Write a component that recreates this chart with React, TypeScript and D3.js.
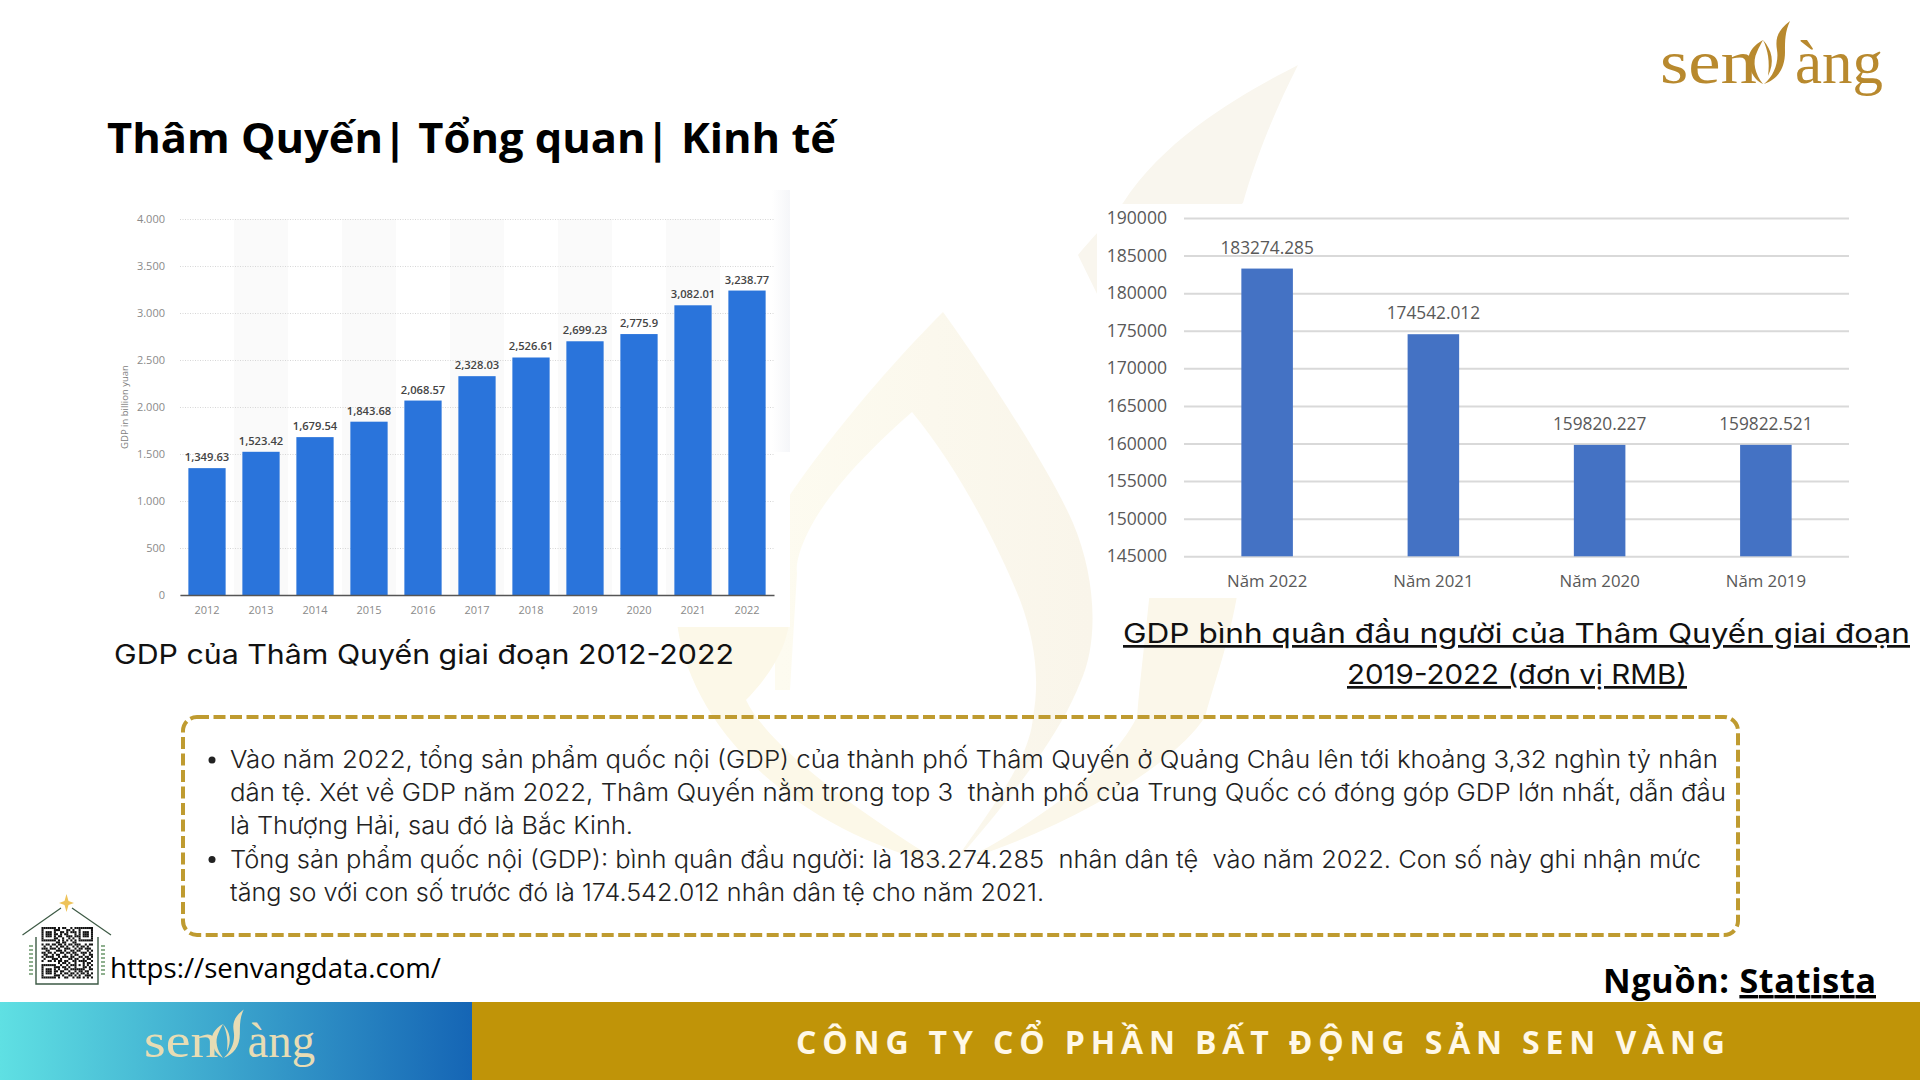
import { useEffect, useRef } from 'react';
import * as d3 from 'd3';

// GDP chart (billion yuan)
const gdpYears = ['2012', '2013', '2014', '2015', '2016', '2017', '2018', '2019', '2020', '2021', '2022'];
const gdpValues = [1349.63, 1523.42, 1679.54, 1843.68, 2068.57, 2328.03, 2526.61, 2699.23, 2775.9, 3082.01, 3238.77];
const gdpTicks = [0, 500, 1000, 1500, 2000, 2500, 3000, 3500, 4000];

// GDP per capita chart (RMB)
const perCapitaYears = ['Năm 2022', 'Năm 2021', 'Năm 2020', 'Năm 2019'];
const perCapitaValues = [183274.285, 174542.012, 159820.227, 159822.521];
const perCapitaTicks = [145000, 150000, 155000, 160000, 165000, 170000, 175000, 180000, 185000, 190000];

const bodyLines = [
  { text: 'Vào năm 2022, tổng sản phẩm quốc nội (GDP) của thành phố Thâm Quyến ở Quảng Châu lên tới khoảng 3,32 nghìn tỷ nhân', end: 1718, bullet: true },
  { text: 'dân tệ. Xét về GDP năm 2022, Thâm Quyến nằm trong top 3  thành phố của Trung Quốc có đóng góp GDP lớn nhất, dẫn đầu', end: 1726, bullet: false },
  { text: 'là Thượng Hải, sau đó là Bắc Kinh.', end: 633, bullet: false },
  { text: 'Tổng sản phẩm quốc nội (GDP): bình quân đầu người: là 183.274.285  nhân dân tệ  vào năm 2022. Con số này ghi nhận mức', end: 1701, bullet: true },
  { text: 'tăng so với con số trước đó là 174.542.012 nhân dân tệ cho năm 2021.', end: 1044, bullet: false },
];

const qrRows = [
  '1111111010110010111111111',
  '1000001110001101001000001',
  '1011101001101011101011101',
  '1011101101011000101011101',
  '1011101011001110111011101',
  '1000001100100101001000001',
  '1111111010101010101111111',
  '0000000110110001100000000',
  '1011011011010110111001011',
  '0100100101101001010110100',
  '1110111010011100101101110',
  '0011000111010011011000101',
  '1101101001101101100111010',
  '0110010110010010110010011',
  '1011110010111011001101101',
  '0100011101000110110010110',
  '1001101011011001101111001',
  '0000000010110100100010110',
  '1111111001001011101010101',
  '1000001110110100100011010',
  '1011101010011011111110011',
  '1011101101100100101101100',
  '1011101001011011010110101',
  '1000001110100110101001110',
  '1111111010011001011010101',
];

const GOLD_BORDER = '#bf9b30';
const TEXT_FONT = 'Inter, sans-serif';
const CHART_FONT = '"Open Sans", sans-serif';

function drawGdp(root: SVGGElement) {
  const g = d3.select(root);
  g.selectAll('*').remove();

  const x = d3.scaleBand<string>().domain(gdpYears).range([180, 774]).paddingInner(0.31).paddingOuter(0.155);
  const band = d3.scaleBand<string>().domain(gdpYears).range([180, 774]);
  const y = d3.scaleLinear().domain([0, 4000]).range([595, 219]);
  const thousands = d3.formatLocale({ decimal: ',', thousands: '.', grouping: [3], currency: ['', ''] }).format(',');

  // alternating column shading behind the bars
  g.selectAll('rect.stripe')
    .data(gdpYears.filter((_, i) => i % 2 === 1))
    .join('rect')
    .attr('class', 'stripe')
    .attr('x', d => band(d) ?? 0)
    .attr('y', y(4000))
    .attr('width', band.bandwidth())
    .attr('height', y(0) - y(4000))
    .attr('fill', '#fafafa');

  const yAxis = g.append('g')
    .attr('transform', 'translate(180,0)')
    .call(d3.axisLeft(y).tickValues(gdpTicks).tickSize(-594).tickPadding(15).tickFormat(d => thousands(d as number)));
  yAxis.select('.domain').remove();
  yAxis.selectAll('line').attr('stroke', '#d6d6d6').attr('stroke-dasharray', '1 1.5');
  yAxis.selectAll('text').attr('fill', '#8a8a8a').attr('font-size', 11).attr('font-family', CHART_FONT);

  g.selectAll('rect.bar')
    .data(gdpValues)
    .join('rect')
    .attr('class', 'bar')
    .attr('x', (_, i) => x(gdpYears[i]) ?? 0)
    .attr('y', d => y(d))
    .attr('width', x.bandwidth())
    .attr('height', d => y(0) - y(d))
    .attr('fill', '#2a74db');

  g.selectAll('text.value')
    .data(gdpValues)
    .join('text')
    .attr('class', 'value')
    .attr('x', (_, i) => (x(gdpYears[i]) ?? 0) + x.bandwidth() / 2)
    .attr('y', d => y(d) - 7)
    .attr('text-anchor', 'middle')
    .attr('font-family', CHART_FONT)
    .attr('font-size', 11.2)
    .attr('font-weight', 600)
    .attr('fill', '#444')
    .text(d => d3.format(',')(d));

  const xAxis = g.append('g')
    .attr('transform', 'translate(0,595)')
    .call(d3.axisBottom(band).tickSize(0).tickPadding(11));
  xAxis.select('.domain').attr('stroke', '#555').attr('stroke-width', 1.5);
  xAxis.selectAll('text').attr('fill', '#8a8a8a').attr('font-size', 11).attr('font-family', CHART_FONT);

  g.append('text')
    .attr('transform', 'translate(128,407) rotate(-90)')
    .attr('text-anchor', 'middle')
    .attr('font-family', CHART_FONT)
    .attr('font-size', 9.5)
    .attr('fill', '#808080')
    .text('GDP in billion yuan');
}

function drawPerCapita(root: SVGGElement) {
  const g = d3.select(root);
  g.selectAll('*').remove();

  const x = d3.scaleBand<string>().domain(perCapitaYears).range([1184, 1849]).paddingInner(0.69).paddingOuter(0.345);
  const y = d3.scaleLinear().domain([145000, 190000]).range([556.3, 218]);

  const yAxis = g.append('g')
    .attr('transform', 'translate(1184,0)')
    .call(d3.axisLeft(y).tickValues(perCapitaTicks).tickSize(-665).tickPadding(17).tickFormat(d3.format('d')));
  yAxis.select('.domain').remove();
  yAxis.selectAll('line').attr('stroke', '#d9d9d9').attr('stroke-width', 2);
  yAxis.selectAll('text').attr('fill', '#595959').attr('font-size', 17.6).attr('font-family', CHART_FONT);

  g.selectAll('rect.bar')
    .data(perCapitaValues)
    .join('rect')
    .attr('class', 'bar')
    .attr('x', (_, i) => x(perCapitaYears[i]) ?? 0)
    .attr('y', d => y(d))
    .attr('width', x.bandwidth())
    .attr('height', d => y(145000) - y(d))
    .attr('fill', '#4472c4');

  g.selectAll('text.value')
    .data(perCapitaValues)
    .join('text')
    .attr('class', 'value')
    .attr('x', (_, i) => (x(perCapitaYears[i]) ?? 0) + x.bandwidth() / 2)
    .attr('y', d => y(d) - 15)
    .attr('text-anchor', 'middle')
    .attr('font-family', CHART_FONT)
    .attr('font-size', 17.3)
    .attr('fill', '#595959')
    .text(d => String(d));

  const xAxis = g.append('g')
    .attr('transform', 'translate(0,556.3)')
    .call(d3.axisBottom(x).tickSize(0).tickPadding(19));
  xAxis.select('.domain').remove();
  xAxis.selectAll('text').attr('fill', '#595959').attr('font-size', 16.8).attr('font-family', CHART_FONT);
}

function Logo({ color, transform }: { color: string; transform?: string }) {
  return (
    <g transform={transform} fill={color}>
      <text x={1660} y={83} fontFamily='"Liberation Serif", serif' fontSize={62} textLength={97} lengthAdjust="spacingAndGlyphs">sen</text>
      <text x={1795} y={83} fontFamily='"Liberation Serif", serif' fontSize={62} textLength={88} lengthAdjust="spacingAndGlyphs">àng</text>
      <path d="M1790,21 C1778,30 1775,38 1777,50 C1779,62 1774,76 1764,84 C1776,80 1785,70 1785,52 C1785,40 1785,32 1790,21Z" />
      <path d="M1763,40 C1752,46 1745,56 1750,68 C1752,76 1758,82 1763,84 C1755,74 1752,62 1757,52 C1759,47 1761,44 1763,40Z" />
      <path d="M1763,40 C1772,50 1775,62 1768,76 C1770,62 1768,50 1763,40Z" />
    </g>
  );
}

function QrHouse() {
  const cell = 51.5 / qrRows[0].length;
  const green = '#3d5a45';
  return (
    <g>
      <path d="M22.5,935 L61,908 M72,908 L111,935" stroke={green} strokeWidth={1.2} fill="none" />
      <path d="M36,937 V984 H98 V937" stroke={green} strokeWidth={1.4} fill="none" />
      <path d="M66.5,894 L68.5,901 L74,903 L68.5,905 L66.5,912 L64.5,905 L59,903 L64.5,901Z" fill="#eec35a" />
      <path d="M31,945 V976 M103,945 V976" stroke="#8fb08f" strokeWidth={4} strokeDasharray="2 2" fill="none" />
      <g fill="#111">
        {qrRows.flatMap((row, r) =>
          row.split('').map((c, col) =>
            c === '1' ? <rect key={`${r}-${col}`} x={41.5 + col * cell} y={927 + r * cell} width={cell} height={cell} /> : null
          )
        )}
      </g>
    </g>
  );
}

export default function App() {
  const leftRef = useRef<SVGGElement>(null);
  const rightRef = useRef<SVGGElement>(null);

  useEffect(() => {
    if (leftRef.current) drawGdp(leftRef.current);
    if (rightRef.current) drawPerCapita(rightRef.current);
  }, []);

  return (
    <svg width={1920} height={1080} viewBox="0 0 1920 1080" style={{ position: 'absolute', left: 0, top: 0, display: 'block', background: '#fff' }}>
      <defs>
        <linearGradient id="footerBlue" x1="0" x2="1" y1="0" y2="0">
          <stop offset="0" stopColor="#5fe0e3" />
          <stop offset="1" stopColor="#1565b5" />
        </linearGradient>
        <linearGradient id="imgEdge" x1="0" x2="1" y1="0" y2="0">
          <stop offset="0" stopColor="#ffffff" />
          <stop offset="1" stopColor="#f5f6f9" />
        </linearGradient>
        <linearGradient id="ringFill" gradientUnits="userSpaceOnUse" x1="780" x2="1090" y1="0" y2="0">
          <stop offset="0" stopColor="#fdfbf0" />
          <stop offset="1" stopColor="#f9f5ea" />
        </linearGradient>
      </defs>

      {/* faint lotus watermark */}
      <path d="M1298,65 C1260,85 1170,130 1123,203 C1105,225 1090,240 1078,255 L1100,300 L1243,203 C1255,160 1275,110 1298,65Z" fill="#f9f6ee" />
      <path d="M1150,590 L1238,590 C1230,640 1215,680 1205,717 C1170,770 1060,830 965,860 C1040,820 1110,770 1137,717 C1140,680 1145,640 1150,590Z" fill="#fbf7ea" />
      <path d="M943,312 C985,370 1050,470 1073,523 C1095,575 1100,640 1080,683 C1060,735 1010,800 950,868 C990,810 1030,760 1033,717 C1040,680 1035,640 1020,600 C1000,550 960,470 912,412 C880,440 850,470 830,497 C805,530 795,560 797,573 L790,690 L775,690 L775,520 C790,490 860,395 943,312Z" fill="url(#ringFill)" />
      <path d="M676,610 C680,700 760,820 950,868 C870,820 770,750 746,700 C765,680 790,650 790,610Z" fill="#fcf8e8" />

      {/* the two pasted chart images sit on white */}
      <rect x={100} y={190} width={690} height={437} fill="#fff" />
      <rect x={772} y={190} width={18} height={262} fill="url(#imgEdge)" />
      <rect x={1097} y={204} width={773} height={394} fill="#fff" />

      <g ref={leftRef} />
      <g ref={rightRef} />

      <text x={107} y={153} fontFamily={CHART_FONT} fontWeight={700} fontSize={42} fill="#000" textLength={729} lengthAdjust="spacingAndGlyphs">
        Thâm Quyến| Tổng quan| Kinh tế
      </text>

      <text x={114} y={664} fontFamily={TEXT_FONT} fontSize={27} fill="#111" textLength={620} lengthAdjust="spacingAndGlyphs">
        GDP của Thâm Quyến giai đoạn 2012-2022
      </text>
      <text x={1123} y={643} fontFamily={TEXT_FONT} fontSize={27} fill="#111" textLength={787} lengthAdjust="spacingAndGlyphs" style={{ textDecoration: 'underline' }}>
        GDP bình quân đầu người của Thâm Quyến giai đoạn
      </text>
      <text x={1347} y={684} fontFamily={TEXT_FONT} fontSize={27} fill="#111" textLength={340} lengthAdjust="spacingAndGlyphs" style={{ textDecoration: 'underline' }}>
        2019-2022 (đơn vị RMB)
      </text>

      <rect x={183} y={717} width={1555} height={218} rx={14} fill="none" stroke={GOLD_BORDER} strokeWidth={4} strokeDasharray="12 4.5" />

      {bodyLines.map((line, i) => (
        <g key={i}>
          {line.bullet && <circle cx={212} cy={760 + i * 33.2} r={3.5} fill="#222" />}
          <text
            x={230}
            y={768 + i * 33.2}
            fontFamily={TEXT_FONT}
            fontWeight={300}
            fontSize={24}
            fill="#222"
            textLength={line.end - 230}
            lengthAdjust="spacingAndGlyphs"
            style={{ whiteSpace: 'pre' }}
          >
            {line.text}
          </text>
        </g>
      ))}

      <QrHouse />
      <text x={110} y={978} fontFamily={CHART_FONT} fontSize={27} fill="#000" textLength={331} lengthAdjust="spacingAndGlyphs">
        https://senvangdata.com/
      </text>

      <text x={1603} y={993} fontFamily={CHART_FONT} fontWeight={700} fontSize={34} fill="#000" textLength={273} lengthAdjust="spacing">
        Nguồn: <tspan style={{ textDecoration: 'underline' }}>Statista</tspan>
      </text>

      <Logo color="#b8892e" />

      <rect x={0} y={1002} width={472} height={78} fill="url(#footerBlue)" />
      <rect x={472} y={1002} width={1448} height={78} fill="#c09408" />
      <Logo color="#e7dcb4" transform="translate(144,1057) scale(0.767) translate(-1660,-83)" />
      <text x={796} y={1054} fontFamily={CHART_FONT} fontWeight={700} fontSize={32} fill="#fff8e7" textLength={929} lengthAdjust="spacing">
        CÔNG TY CỔ PHẦN BẤT ĐỘNG SẢN SEN VÀNG
      </text>
    </svg>
  );
}
